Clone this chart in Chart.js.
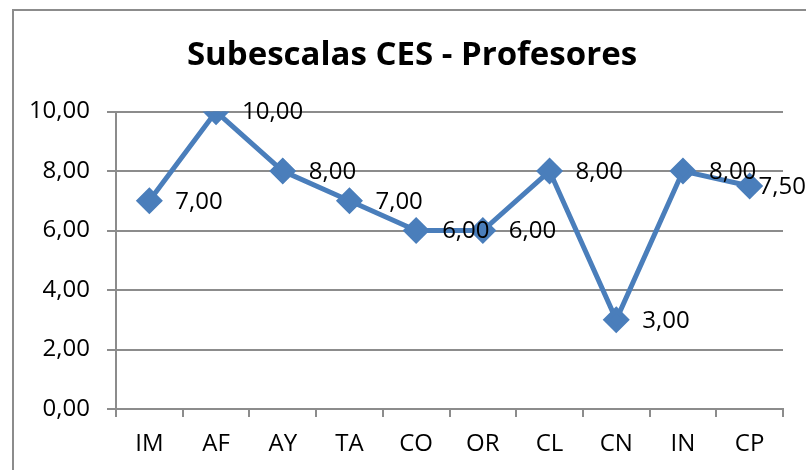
<!DOCTYPE html>
<html>
<head>
<meta charset="utf-8">
<script src="https://cdn.jsdelivr.net/npm/chart.js@4/dist/chart.umd.min.js"></script>
<style>
  body { margin: 0; background: #fff; }
  #frame { position: absolute; left: 12px; top: 9px; width: 800px; height: 470px; border: 2px solid #8c8c8c; }
  #wrap { position: absolute; left: 0; top: 0; width: 806px; height: 470px; }
</style>
</head>
<body>
<div id="frame"></div>
<div id="wrap"><canvas id="cesChart"></canvas></div>
<script>
// Subscales and teacher scores
const subescalas = ["IM", "AF", "AY", "TA", "CO", "OR", "CL", "CN", "IN", "CP"];
const puntajes = [7.00, 10.00, 8.00, 7.00, 6.00, 6.00, 8.00, 3.00, 8.00, 7.50];
const yTicks = [0, 2, 4, 6, 8, 10];

const FONT = "'Open Sans', Lato, sans-serif";

function fmt(v) {
    return Number(v).toFixed(2).replace('.', ',');
}

// Draw the value labels to the right of each point (Excel style)
const valueLabels = {
    id: 'valueLabels',
    afterDatasetsDraw(chart) {
        const ctx = chart.ctx;
        const meta = chart.getDatasetMeta(0);
        ctx.save();
        ctx.font = "24px " + FONT;
        ctx.fillStyle = "#000";
        ctx.textBaseline = "middle";
        ctx.textAlign = "left";
        meta.data.forEach((pt, i) => {
            const txt = fmt(chart.data.datasets[0].data[i]);
            const w = ctx.measureText(txt).width;
            let x = pt.x + 26;
            if (x + w > chart.width) x = chart.width - w;
            ctx.fillText(txt, x, pt.y + 1);
        });
        ctx.restore();
    }
};

const ctx = document.getElementById('cesChart').getContext('2d');
const cesChart = new Chart(ctx, {
    type: 'line',
    data: {
        labels: subescalas,
        datasets: [{
            data: puntajes,
            borderColor: "#4A7EBB",
            backgroundColor: "#4A7EBB",
            borderWidth: 5,
            pointStyle: 'rectRot',
            pointRadius: 10,
            pointHoverRadius: 10,
            tension: 0
        }]
    },
    options: {
        responsive: true,
        maintainAspectRatio: false,
        animation: false,
        layout: { padding: { left: 18, right: 0, top: 0, bottom: 0 } },
        plugins: {
            legend: { display: false },
            tooltip: { enabled: false },
            title: {
                display: true,
                text: "Subescalas CES - Profesores",
                color: "#000",
                font: { family: FONT, size: 33, weight: 'bold', lineHeight: 1.2 },
                padding: { top: 36, bottom: 36 }
            }
        },
        scales: {
            x: {
                offset: true,
                grid: {
                    offset: true,
                    drawOnChartArea: false,
                    drawTicks: true,
                    tickLength: 8,
                    color: "#8c8c8c",
                    lineWidth: 2
                },
                border: { color: "#8c8c8c", width: 2 },
                ticks: {
                    color: "#000",
                    font: { family: FONT, size: 24 },
                    padding: 13,
                    maxRotation: 0
                },
                afterFit(scale) { scale.height = 61; }
            },
            y: {
                min: 0,
                max: 10,
                afterBuildTicks(scale) {
                    scale.ticks = yTicks.map(v => ({ value: v }));
                },
                grid: {
                    color: "#8c8c8c",
                    lineWidth: 2,
                    tickLength: 9
                },
                border: { color: "#8c8c8c", width: 2 },
                ticks: {
                    color: "#000",
                    font: { family: FONT, size: 24 },
                    padding: 17,
                    callback: (v) => fmt(v)
                },
                afterFit(scale) { scale.width = 98; }
            },
            // empty right-hand spacer so the plot ends where the original does
            spacer: {
                type: 'linear',
                position: 'right',
                display: true,
                grid: { display: false },
                border: { display: false },
                ticks: { display: false },
                afterFit(scale) { scale.width = 23; }
            }
        }
    },
    plugins: [valueLabels]
});
</script>
</body>
</html>
